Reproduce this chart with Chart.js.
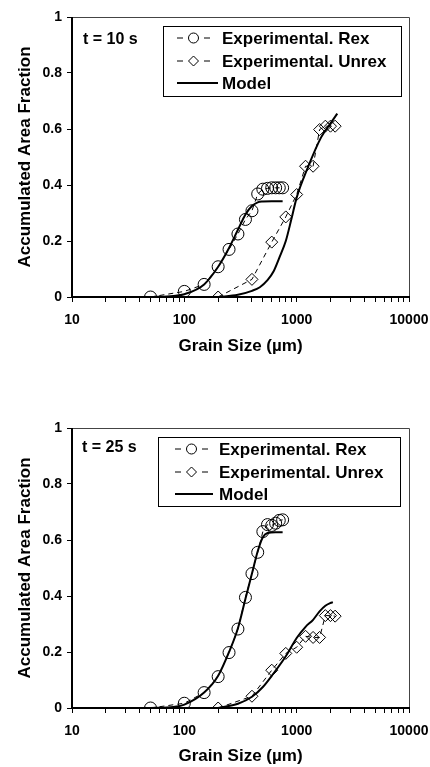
<!DOCTYPE html>
<html>
<head>
<meta charset="utf-8">
<script src="https://cdn.jsdelivr.net/npm/chart.js@4.4.1/dist/chart.umd.min.js"></script>
<style>
  html, body { margin: 0; padding: 0; background: #fff; }
  body { width: 430px; height: 767px; position: relative; overflow: hidden; }
  canvas { position: absolute; left: 0; }
  #chart10 { top: 0; }
  #chart25 { top: 400px; }
</style>
</head>
<body>
<canvas id="chart10" width="430" height="357"></canvas>
<canvas id="chart25" width="430" height="367"></canvas>
<script>
// series names + ticks
const seriesNames = ['Experimental. Rex', 'Experimental. Unrex', 'Model'];
const xMajor = [10, 100, 1000, 10000];
const xMinor = [20, 30, 40, 50, 60, 70, 80, 90, 200, 300, 400, 500, 600, 700, 800, 900, 2000, 3000, 4000, 5000, 6000, 7000, 8000, 9000];
const yTicks = [0, 0.2, 0.4, 0.6, 0.8, 1];

// t = 10 s
const rexSize10 = [50, 100, 150, 200, 250, 300, 350, 400, 450, 500, 550, 600, 650, 700, 750];
const rexFrac10 = [0, 0.02, 0.045, 0.108, 0.17, 0.225, 0.277, 0.308, 0.368, 0.385, 0.388, 0.39, 0.39, 0.39, 0.39];
const unrexSize10 = [200, 400, 600, 800, 1000, 1200, 1400, 1600, 1800, 2000, 2200];
const unrexFrac10 = [0, 0.063, 0.196, 0.286, 0.366, 0.467, 0.467, 0.598, 0.61, 0.61, 0.61];
const modelRexSize10 = [50, 80, 100, 150, 200, 250, 300, 350, 400, 450, 500, 600, 750];
const modelRexFrac10 = [0, 0.004, 0.01, 0.045, 0.108, 0.175, 0.24, 0.295, 0.325, 0.338, 0.341, 0.342, 0.342];
const modelUnrexSize10 = [200, 300, 400, 470, 550, 620, 700, 800, 900, 1000, 1250, 1650, 2000, 2300];
const modelUnrexFrac10 = [0, 0.008, 0.022, 0.035, 0.06, 0.09, 0.14, 0.2, 0.28, 0.355, 0.46, 0.57, 0.62, 0.655];

// t = 25 s
const rexSize25 = [50, 100, 150, 200, 250, 300, 350, 400, 450, 500, 550, 600, 650, 700, 750];
const rexFrac25 = [0, 0.017, 0.055, 0.112, 0.198, 0.282, 0.395, 0.48, 0.556, 0.63, 0.655, 0.652, 0.66, 0.67, 0.672];
const unrexSize25 = [200, 400, 600, 800, 1000, 1200, 1400, 1600, 1800, 2000, 2200];
const unrexFrac25 = [0, 0.042, 0.135, 0.195, 0.217, 0.256, 0.252, 0.252, 0.33, 0.33, 0.328];
const modelRexSize25 = [50, 80, 100, 150, 200, 250, 300, 350, 400, 450, 500, 550, 650, 750];
const modelRexFrac25 = [0, 0.004, 0.012, 0.055, 0.115, 0.2, 0.285, 0.39, 0.48, 0.56, 0.61, 0.625, 0.628, 0.628];
const modelUnrexSize25 = [200, 300, 400, 500, 600, 800, 1000, 1200, 1400, 1600, 1800, 2000, 2100];
const modelUnrexFrac25 = [0, 0.015, 0.04, 0.075, 0.115, 0.185, 0.25, 0.29, 0.315, 0.345, 0.365, 0.375, 0.378];

const FONT = '"Liberation Sans", Arial, sans-serif';

const toPoints = (xs, ys) => xs.map((x, i) => ({ x: x, y: ys[i] }));

function drawMarker(ctx, style, x, y, r) {
  ctx.beginPath();
  if (style === 'circle') {
    ctx.arc(x, y, r, 0, Math.PI * 2);
  } else {
    ctx.moveTo(x - r, y);
    ctx.lineTo(x, y - r);
    ctx.lineTo(x + r, y);
    ctx.lineTo(x, y + r);
    ctx.closePath();
  }
  ctx.stroke();
}

// frame, panel label and boxed legend
const decor = {
  id: 'decor',
  afterDraw(chart, args, opts) {
    const ctx = chart.ctx;
    const a = chart.chartArea;
    const l = Math.round(a.left), r = Math.round(a.right), t = Math.round(a.top), b = Math.round(a.bottom);
    ctx.save();
    ctx.strokeStyle = '#444';
    ctx.lineWidth = 1;
    ctx.beginPath();
    ctx.moveTo(l, t + 0.5);
    ctx.lineTo(r + 0.5, t + 0.5);
    ctx.lineTo(r + 0.5, b);
    ctx.stroke();
    ctx.strokeStyle = '#000';
    ctx.lineWidth = 2;
    ctx.beginPath();
    ctx.moveTo(l, t);
    ctx.lineTo(l, b);
    ctx.lineTo(r + 1, b);
    ctx.stroke();

    ctx.fillStyle = '#000';
    ctx.font = 'bold 16px ' + FONT;
    ctx.textBaseline = 'middle';
    ctx.textAlign = 'left';
    ctx.fillText(opts.label, opts.labelX, opts.labelY);

    const lg = opts.legend;
    ctx.font = 'bold 17px ' + FONT;
    ctx.lineWidth = 1;
    ctx.strokeStyle = '#000';
    ctx.strokeRect(lg.x + 0.5, lg.y + 0.5, lg.w, lg.h);
    const styles = ['circle', 'diamond', null];
    lg.rows.forEach((ry, i) => {
      const x0 = lg.sx0;
      if (styles[i]) {
        const x1 = lg.sxe, cx = (x0 + x1) / 2;
        ctx.lineWidth = 1;
        ctx.beginPath();
        ctx.moveTo(x0, ry); ctx.lineTo(x0 + 6, ry);
        ctx.moveTo(x1 - 6, ry); ctx.lineTo(x1, ry);
        ctx.stroke();
        drawMarker(ctx, styles[i], cx, ry, 5);
      } else {
        ctx.lineWidth = 2;
        ctx.beginPath();
        ctx.moveTo(x0, ry); ctx.lineTo(lg.sx1, ry);
        ctx.stroke();
      }
      ctx.fillText(seriesNames[i], lg.tx, ry + 1);
    });
    ctx.restore();
  }
};

function makeChart(id, s, padTop, axisH, decorOpts) {
  const expStyle = {
    borderColor: '#000', borderWidth: 1, borderDash: [5, 4],
    pointRadius: 6, pointBorderWidth: 1, pointBorderColor: '#000',
    pointBackgroundColor: 'rgba(0,0,0,0)', tension: 0
  };
  const modelStyle = {
    borderColor: '#000', borderWidth: 2, pointRadius: 0,
    cubicInterpolationMode: 'monotone'
  };
  return new Chart(document.getElementById(id), {
    type: 'line',
    data: {
      datasets: [
        Object.assign({ label: seriesNames[0], data: toPoints(s[0], s[1]), pointStyle: 'circle' }, expStyle),
        Object.assign({ label: seriesNames[1], data: toPoints(s[2], s[3]), pointStyle: 'rectRot' }, expStyle),
        Object.assign({ label: seriesNames[2], data: toPoints(s[4], s[5]) }, modelStyle),
        Object.assign({ label: seriesNames[2], data: toPoints(s[6], s[7]) }, modelStyle)
      ]
    },
    options: {
      responsive: false,
      animation: false,
      devicePixelRatio: 1,
      layout: { padding: { top: padTop, right: 21, left: 0, bottom: 0 } },
      plugins: {
        legend: { display: false },
        tooltip: { enabled: false },
        decor: decorOpts
      },
      scales: {
        x: {
          type: 'logarithmic',
          min: 10,
          max: 10000,
          afterBuildTicks: sc => {
            sc.ticks = xMajor.concat(xMinor).sort((p, q) => p - q).map(v => ({ value: v }));
          },
          afterFit: sc => { sc.height = axisH; sc.paddingLeft = 0; sc.paddingRight = 0; },
          border: { display: false },
          grid: { drawOnChartArea: false, drawTicks: true, tickLength: 5, color: '#000' },
          ticks: {
            autoSkip: false, maxRotation: 0, padding: 10, color: '#000',
            font: { family: FONT, size: 14, weight: 'bold' },
            callback: v => xMajor.includes(v) ? String(v) : ''
          },
          title: {
            display: true, text: 'Grain Size (µm)', color: '#000',
            font: { family: FONT, size: 17, weight: 'bold' },
            padding: { top: 0, bottom: 0 }
          }
        },
        y: {
          min: 0,
          max: 1,
          afterBuildTicks: sc => { sc.ticks = yTicks.map(v => ({ value: v })); },
          afterFit: sc => { sc.width = 72; sc.paddingTop = 0; sc.paddingBottom = 0; },
          border: { display: false },
          grid: { drawOnChartArea: false, drawTicks: true, tickLength: 5, color: '#000' },
          ticks: {
            padding: 5, color: '#000',
            font: { family: FONT, size: 14, weight: 'bold' },
            callback: v => String(Math.round(v * 10) / 10)
          },
          title: {
            display: true, text: 'Accumulated Area Fraction', color: '#000',
            font: { family: FONT, size: 17, weight: 'bold' },
            padding: { top: 15, bottom: 0 }
          }
        }
      }
    },
    plugins: [decor]
  });
}

makeChart('chart10',
  [rexSize10, rexFrac10, unrexSize10, unrexFrac10, modelRexSize10, modelRexFrac10, modelUnrexSize10, modelUnrexFrac10],
  17, 60,
  { label: 't = 10 s', labelX: 83, labelY: 40,
    legend: { x: 163, y: 26, w: 238, h: 70, rows: [38, 61, 83], sx0: 177, sxe: 210, sx1: 218, tx: 222 } });

makeChart('chart25',
  [rexSize25, rexFrac25, unrexSize25, unrexFrac25, modelRexSize25, modelRexFrac25, modelUnrexSize25, modelUnrexFrac25],
  28, 59,
  { label: 't = 25 s', labelX: 82, labelY: 48,
    legend: { x: 158, y: 37, w: 242, h: 69, rows: [49, 72, 94], sx0: 175, sxe: 208, sx1: 213, tx: 219 } });
</script>
</body>
</html>
